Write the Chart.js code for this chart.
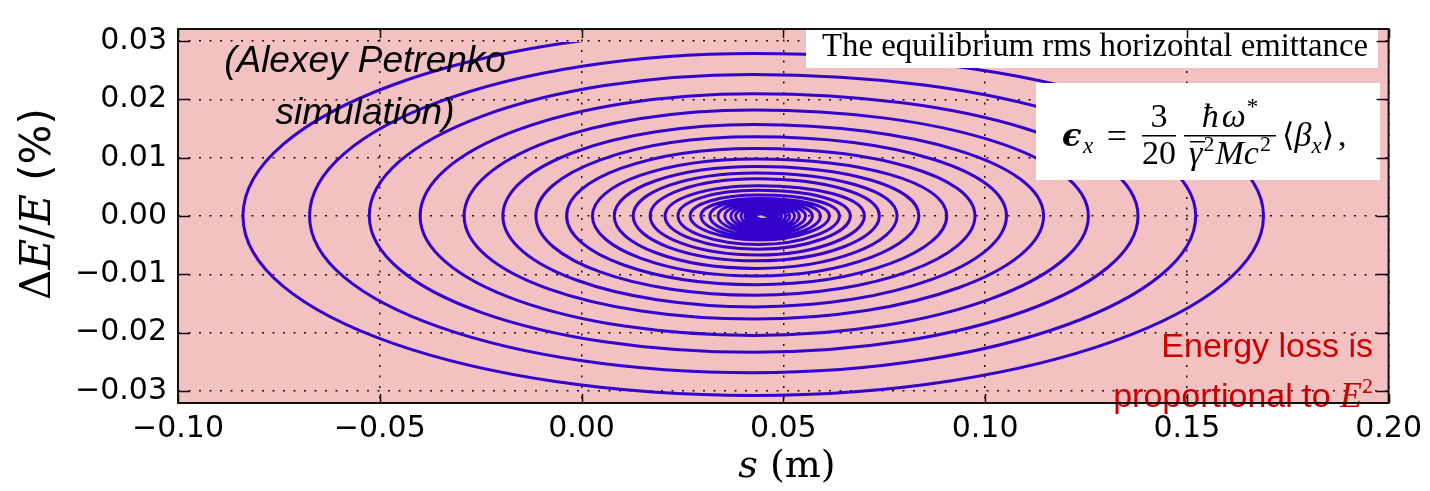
<!DOCTYPE html>
<html>
<head>
<meta charset="utf-8">
<script src="https://cdn.jsdelivr.net/npm/chart.js@4/dist/chart.umd.min.js"></script>
<style>
  html, body { margin: 0; padding: 0; background: #fff; }
  #wrap { width: 1430px; height: 491px; }
</style>
</head>
<body>
<div id="wrap"><canvas id="spiral" width="1430" height="491"></canvas></div>
<script>
// axis ranges / ticks
const sMin = -0.10, sMax = 0.20, sStep = 0.05;
const dEMin = -0.0321, dEMax = 0.0321, dEStep = 0.01;

// spiral read off the picture turn by turn (counter-clockwise):
// left crossing s, bottom dE, right crossing s, top dE, s of top/bottom
// turnRight[0] / turnTop[0] are the lead-in before the visible start at (0, 0.030)
const turnLeft = [-0.0839, -0.0674, -0.0526, -0.0400, -0.0291, -0.0195, -0.0113, -0.0037,
  0.0027, 0.0081, 0.0128, 0.0170, 0.0207, 0.0239, 0.0269, 0.0296, 0.0318, 0.0338,
  0.0355, 0.0370, 0.0382, 0.0395, 0.0405, 0.0412, 0.0419, 0.0424, 0.0429, 0.0432];
const turnBottom = [-0.0308, -0.0269, -0.0234, -0.0205, -0.0177, -0.0156, -0.0136, -0.0118,
  -0.0103, -0.0090, -0.0077, -0.0067, -0.0057, -0.0049, -0.0041, -0.0038, -0.0034, -0.0030,
  -0.0027, -0.0024, -0.0021, -0.0019, -0.0016, -0.0014, -0.0012, -0.0010, -0.0008, -0.0006];
const turnRight = [0.1784, 0.1690, 0.1522, 0.1379, 0.1256, 0.1145, 0.1053, 0.0975, 0.0905,
  0.0836, 0.0782, 0.0738, 0.0701, 0.0666, 0.0639, 0.0614, 0.0592, 0.0572, 0.0555,
  0.0540, 0.0528, 0.0516, 0.0506, 0.0496, 0.0488, 0.0481, 0.0476, 0.0471, 0.0466];
const turnTop = [0.0320, 0.0279, 0.0243, 0.0210, 0.0182, 0.0157, 0.0136, 0.0116, 0.0098,
  0.0085, 0.0074, 0.0064, 0.0052, 0.0044, 0.0036, 0.0030, 0.0028, 0.0025, 0.0022,
  0.0020, 0.0017, 0.0015, 0.0013, 0.0011, 0.0009, 0.0007, 0.0005, 0.0004, 0.0002];
const turnMid = [0.0427, 0.0427, 0.0424, 0.0427, 0.0427, 0.0427, 0.0429, 0.0429, 0.0432,
  0.0432, 0.0432, 0.0434, 0.0437, 0.0437, 0.0439, 0.0442, 0.0444, 0.0444, 0.0447,
  0.0447, 0.0449, 0.0449, 0.0449, 0.0449, 0.0449, 0.0449, 0.0449, 0.0449, 0.0449];

const lineColor = "#3300cc";
const plotFill = "#f2c1c1";

let spiralPts = [
  { x: turnRight[0], y: 0 },
  { x: turnMid[0], y: turnTop[0] },
];
for (let k = 0; k < turnLeft.length; k++) {
  spiralPts.push({ x: turnLeft[k], y: 0 });
  spiralPts.push({ x: turnMid[k + 1], y: turnBottom[k] });
  spiralPts.push({ x: turnRight[k + 1], y: 0 });
  spiralPts.push({ x: turnMid[k + 1], y: turnTop[k + 1] });
}

function fmt(v) {
  if (Math.abs(v) < 1e-9) v = 0;
  return v.toFixed(2).replace("-", "\u2212");
}

function runWidth(ctx, parts) {
  let w = 0;
  for (const p of parts) {
    ctx.font = p.font;
    w += ctx.measureText(p.t).width + (p.dx || 0);
  }
  return w;
}
function drawRun(ctx, parts, x, y) {
  let cx = x;
  for (const p of parts) {
    ctx.font = p.font;
    cx += p.dx || 0;
    ctx.fillText(p.t, cx, y + (p.dy || 0));
    cx += ctx.measureText(p.t).width;
  }
  return cx - x;
}

const framePlugin = {
  id: "frame",
  beforeDraw(chart) {
    const ctx = chart.ctx;
    const a = chart.chartArea;
    ctx.save();
    ctx.fillStyle = "#fff";
    ctx.fillRect(0, 0, chart.width, chart.height);
    ctx.fillStyle = plotFill;
    ctx.fillRect(a.left, a.top, a.right - a.left, a.bottom - a.top);
    ctx.restore();
  },
  afterDraw(chart) {
    const ctx = chart.ctx;
    const a = chart.chartArea;
    const xs = chart.scales.x;
    const ys = chart.scales.y;
    ctx.save();

    // annotation: simulation credit
    ctx.fillStyle = "#000";
    ctx.textAlign = "center";
    ctx.textBaseline = "alphabetic";
    ctx.font = 'italic 37px "Liberation Sans"';
    ctx.fillText("(Alexey Petrenko", 365, 72);
    ctx.fillText("simulation)", 365, 124);

    // white boxes
    ctx.fillStyle = "#fff";
    ctx.fillRect(806, 26, 572, 42);
    ctx.fillRect(1036, 83, 344, 97);

    ctx.fillStyle = "#000";
    ctx.textAlign = "left";
    ctx.font = '33px "Liberation Serif"';
    const t1 = "The equilibrium rms horizontal emittance";
    const w1 = ctx.measureText(t1).width;
    ctx.save();
    ctx.translate(822, 56);
    ctx.scale(546 / w1, 1);
    ctx.fillText(t1, 0, 0);
    ctx.restore();

    // formula
    const serif = '"Liberation Serif", "DejaVu Serif"';
    const base = 146;
    ctx.font = 'bold italic 32px "DejaVu Serif"';
    ctx.fillText("\u03F5", 1062, base);
    ctx.font = "italic 23px " + serif;
    ctx.fillText("x", 1083, base + 7);
    ctx.textAlign = "center";
    ctx.font = "36px " + serif;
    ctx.fillText("=", 1117, base + 2);
    ctx.font = "34px " + serif;
    ctx.fillText("3", 1159, 127);
    ctx.fillText("20", 1159, 164);
    ctx.fillRect(1142, 135, 34, 1.5);
    ctx.fillRect(1184, 135, 92, 1.5);
    ctx.textAlign = "left";
    const numParts = [
      { t: "\u0127", font: "italic 34px " + serif },
      { t: "\u03C9", font: "italic 34px " + serif, dx: 3 },
      { t: "*", font: "23px " + serif, dx: 1, dy: -13 },
    ];
    drawRun(ctx, numParts, 1230 - runWidth(ctx, numParts) / 2, 127);
    const denParts = [
      { t: "\u03B3", font: "italic 34px " + serif },
      { t: "2", font: "22px " + serif, dx: 1, dy: -13 },
      { t: "M", font: "italic 34px " + serif, dx: 1 },
      { t: "c", font: "italic 34px " + serif },
      { t: "2", font: "22px " + serif, dx: 1, dy: -13 },
    ];
    const dw = runWidth(ctx, denParts);
    const dx0 = 1230 - dw / 2;
    drawRun(ctx, denParts, dx0, 164);
    ctx.fillRect(dx0 + 1, 141, 15, 1.5);
    const brParts = [
      { t: "\u27E8", font: '32px "DejaVu Serif", "DejaVu Sans"' },
      { t: "\u03B2", font: "italic 34px " + serif },
      { t: "x", font: "italic 23px " + serif, dy: 7 },
      { t: "\u27E9", font: '32px "DejaVu Serif", "DejaVu Sans"' },
      { t: ",", font: "34px " + serif, dx: 4 },
    ];
    drawRun(ctx, brParts, 1282, base);

    // red note
    ctx.fillStyle = "#cc0000";
    ctx.textAlign = "right";
    ctx.font = '34px "Liberation Sans"';
    ctx.fillText("Energy loss is", 1373, 357);
    const eParts = [
      { t: "E", font: "italic 36px " + serif },
      { t: "2", font: "22px " + serif, dy: -14 },
    ];
    ctx.textAlign = "left";
    const ew = runWidth(ctx, eParts);
    drawRun(ctx, eParts, 1373 - ew, 407);
    ctx.textAlign = "right";
    ctx.font = '34px "Liberation Sans"';
    ctx.fillText("proportional to ", 1373 - ew, 407);

    // inward ticks on all four sides
    ctx.strokeStyle = "#1a0808";
    ctx.lineWidth = 1.5;
    ctx.beginPath();
    xs.ticks.forEach((t) => {
      const px = Math.round(xs.getPixelForValue(t.value)) + 0.5;
      ctx.moveTo(px, a.bottom);
      ctx.lineTo(px, a.bottom - 9);
      ctx.moveTo(px, a.top);
      ctx.lineTo(px, a.top + 9);
    });
    ys.ticks.forEach((t) => {
      const py = Math.round(ys.getPixelForValue(t.value)) + 0.5;
      ctx.moveTo(a.left, py);
      ctx.lineTo(a.left + 12, py);
      ctx.moveTo(a.right, py);
      ctx.lineTo(a.right - 12, py);
    });
    ctx.stroke();

    // frame
    ctx.strokeStyle = "#111";
    ctx.lineWidth = 2;
    ctx.strokeRect(a.left, a.top, a.right - a.left, a.bottom - a.top);

    // axis titles
    ctx.fillStyle = "#000";
    ctx.textAlign = "left";
    ctx.textBaseline = "alphabetic";
    const ytParts = [
      { t: "\u0394", font: '42px "DejaVu Serif"' },
      { t: "E", font: 'italic 42px "DejaVu Serif"' },
      { t: "/", font: '42px "DejaVu Serif"' },
      { t: "E", font: 'italic 42px "DejaVu Serif"' },
      { t: " (%)", font: '42px "DejaVu Sans"' },
    ];
    ctx.save();
    ctx.translate(50, 204);
    ctx.rotate(-Math.PI / 2);
    drawRun(ctx, ytParts, -runWidth(ctx, ytParts) / 2, 0);
    ctx.restore();
    const xtParts = [
      { t: "s", font: 'italic 38px "DejaVu Serif"' },
      { t: " (m)", font: '38px "DejaVu Serif"' },
    ];
    drawRun(ctx, xtParts, 787 - runWidth(ctx, xtParts) / 2, 477);

    ctx.restore();
  },
};

const tickFont = { family: "DejaVu Sans", size: 30 };

new Chart(document.getElementById("spiral"), {
  type: "scatter",
  data: {
    datasets: [
      {
        data: spiralPts,
        showLine: true,
        borderColor: lineColor,
        borderWidth: 3,
        pointRadius: 0,
        tension: 0.55,
        fill: false,
        clip: { left: 0, top: -13, right: 0, bottom: 0 },
        segment: {
          borderColor: (c) => (c.p0DataIndex === 0 ? "rgba(0,0,0,0)" : lineColor),
        },
      },
    ],
  },
  options: {
    responsive: false,
    animation: false,
    events: [],
    layout: { padding: { left: 0, right: 36, top: 11, bottom: 0 } },
    plugins: { legend: { display: false }, tooltip: { enabled: false } },
    scales: {
      x: {
        type: "linear",
        min: sMin,
        max: sMax,
        afterFit: (s) => { s.height = 88; },
        ticks: {
          stepSize: sStep,
          font: tickFont,
          color: "#000",
          padding: 8,
          maxRotation: 0,
          autoSkip: false,
          callback: (v) => fmt(v),
        },
        grid: { color: "#2a0a0a", lineWidth: 1.5, drawTicks: false },
        border: { display: false, dash: [2, 8.5] },
      },
      y: {
        type: "linear",
        min: dEMin,
        max: dEMax,
        afterFit: (s) => { s.width = 178; },
        ticks: {
          stepSize: dEStep,
          includeBounds: false,
          font: tickFont,
          color: "#000",
          padding: 11,
          callback: (v) => fmt(v),
        },
        grid: { color: "#2a0a0a", lineWidth: 1.5, drawTicks: false },
        border: { display: false, dash: [2, 8.5] },
      },
    },
  },
  plugins: [framePlugin],
});
</script>
</body>
</html>
